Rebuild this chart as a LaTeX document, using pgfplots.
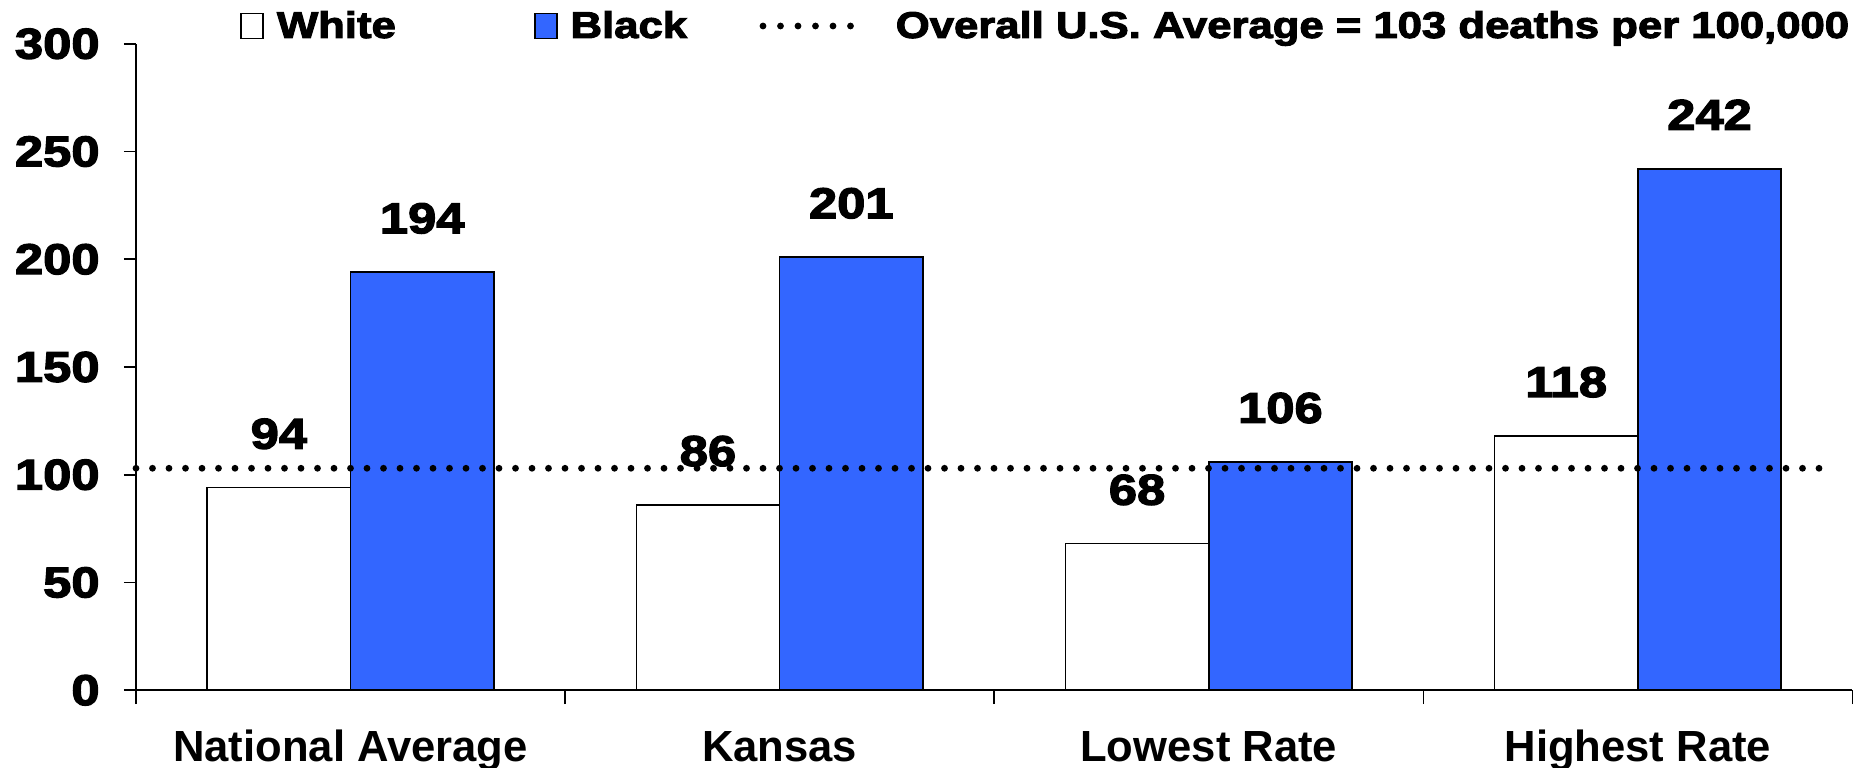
\documentclass[border=0pt]{standalone}
\usepackage{pgfplots}
\pgfplotsset{compat=1.18}
\usepackage{fontspec}
\setmainfont{Liberation Sans}
\newfontfamily\widefont{Liberation Sans}[FakeStretch=1.18, BoldFeatures={FakeBold=3}]
\definecolor{barblue}{RGB}{51,102,255}
\newcommand{\fs}{\fontsize{21.5}{24}\selectfont\widefont\bfseries}
\newcommand{\fc}{\fontsize{21.8}{24}\selectfont\bfseries}
\newcommand{\fl}{\fontsize{18.5}{22}\selectfont\widefont\bfseries}
\begin{document}
\begin{tikzpicture}
\path[use as bounding box] (-68pt,-38.45pt) rectangle (860pt,345.1pt);
\begin{axis}[
  at={(0,0)}, anchor=south west,
  scale only axis, width=858.2pt, height=323.2pt,
  xmin=-0.5, xmax=3.5, ymin=0, ymax=300,
  axis lines=left, axis line style={-, line width=0.8pt, black},
  /pgf/number format/assume math mode=true,
  ytick={0,50,...,300},
  xtick={0,1,2,3},
  xticklabels={National Average, Kansas, Lowest Rate, Highest Rate},
  minor xtick={-0.5,0.5,1.5,2.5,3.5},
  tick align=outside,
  major tick length=6pt, minor tick length=7pt,
  major x tick style={draw=none},
  minor x tick style={black, line width=0.8pt},
  major y tick style={black, line width=0.8pt},
  yticklabel style={font=\fs, anchor=east, inner sep=0pt, xshift=-12pt},
  xticklabel style={font=\fc, anchor=base, inner sep=0pt, yshift=-29.5pt},
  clip=false,
  legend columns=3,
  legend cell align=left,
  legend style={at={(rel axis cs:0,1)}, anchor=west, xshift=52pt, yshift=8.9pt,
    draw=none, fill=none, inner sep=0pt, font=\fl,
    /tikz/every odd column/.append style={column sep=6.5pt},
    nodes={inner sep=0pt}},
]
\addplot[ybar, bar width=71.66pt, bar shift=-35.83pt, fill=white, draw=black, line width=0.8pt,
  nodes near coords, every node near coord/.append style={font=\fs, anchor=base, inner sep=0pt, yshift=19.5pt, xshift=-35.83pt},
  legend image code/.code={\draw[fill=white, draw=black, line width=0.8pt] (0pt,-6.2pt) rectangle (11pt,6.2pt);}]
  coordinates {(0,94) (1,86) (2,68) (3,118)};
\addlegendentry{\makebox[128.5pt][l]{White}}
\addplot[ybar, bar width=71.66pt, bar shift=35.83pt, fill=barblue, draw=black, line width=0.8pt,
  nodes near coords, every node near coord/.append style={font=\fs, anchor=base, inner sep=0pt, yshift=19.5pt, xshift=35.83pt},
  legend image code/.code={\draw[fill=barblue, draw=black, line width=0.8pt] (0pt,-6.2pt) rectangle (11pt,6.2pt);}]
  coordinates {(0,194) (1,201) (2,106) (3,242)};
\addlegendentry{\makebox[94.5pt][l]{Black}}
\addplot[black, line width=3.4pt, line cap=round, dash pattern=on 0pt off 8.25pt,
  legend image code/.code={\draw[black, line width=3.4pt, line cap=round, dash pattern=on 0pt off 8.75pt] (0pt,0pt) -- (44pt,0pt);}]
  coordinates {(-0.5,103) (3.44,103)};
\addlegendentry{\hspace{14.2pt}Overall U.S. Average = 103 deaths per 100,000}
\end{axis}
\end{tikzpicture}
\end{document}
